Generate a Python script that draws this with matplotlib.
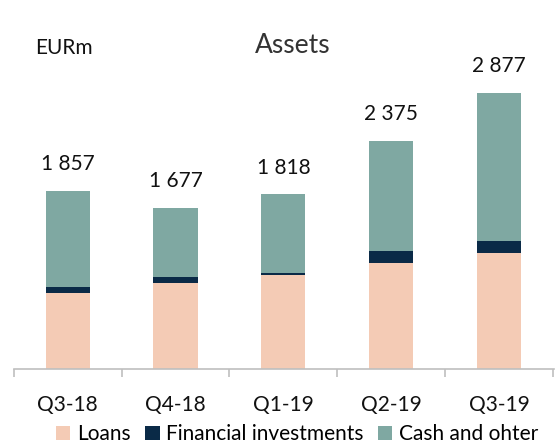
import matplotlib

matplotlib.use("Agg")
import matplotlib.pyplot as plt
import numpy as np

quarters = ["Q3-18", "Q4-18", "Q1-19", "Q2-19", "Q3-19"]
loans = [791, 896, 979, 1107, 1211]
financial = [66, 59, 24, 122, 125]
cash = [1000, 722, 815, 1146, 1541]
totals = [1857, 1677, 1818, 2375, 2877]
total_labels = ["1 857", "1 677", "1 818", "2 375", "2 877"]

plt.rcParams["font.family"] = ["Lato", "DejaVu Sans"]

fig = plt.figure(figsize=(5.55, 4.44), dpi=100)
ax = fig.add_axes([0.025, 0.169, 0.973, 0.831])

x = np.arange(len(quarters))
w = 0.41
loans_a = np.array(loans)
fin_a = np.array(financial)
ax.bar(x, loans, w, color="#F4CBB5", label="Loans")
ax.bar(x, financial, w, bottom=loans_a, color="#0A2A47", label="Financial investments")
ax.bar(x, cash, w, bottom=loans_a + fin_a, color="#7FA8A2", label="Cash and ohter")

for xi, t, lab in zip(x, totals, total_labels):
    ax.annotate(lab, (xi, t), xytext=(0, 12), textcoords="offset points",
                ha="center", va="bottom", fontsize=15, color="#111111")

ax.set_xlim(-0.49, 4.51)
ax.set_ylim(0, 3844)
for s in ["top", "right", "left"]:
    ax.spines[s].set_visible(False)
ax.spines["bottom"].set_color("#bfbfbf")
ax.spines["bottom"].set_linewidth(1.2)
ax.set_yticks([])
ax.set_xticks(x)
ax.set_xticklabels(quarters, fontsize=15, color="#111111")
ax.tick_params(axis="x", which="major", length=0, pad=19)
ax.set_xticks(np.arange(-0.5, 5.0, 1.0), minor=True)
ax.tick_params(axis="x", which="minor", length=6, width=1.2, color="#bfbfbf")

fig.text(0.115, 0.893, "EURm", fontsize=15, ha="center", va="center", color="#111111")
fig.text(0.527, 0.898, "Assets", fontsize=19, ha="center", va="center", color="#333333")

fig.legend(loc="center", bbox_to_anchor=(0.535, 0.022), ncol=3, frameon=False,
           fontsize=15, handlelength=0.7, handleheight=0.7, handletextpad=0.3,
           columnspacing=0.7, borderpad=0)

fig.savefig("out.png", dpi=100)
